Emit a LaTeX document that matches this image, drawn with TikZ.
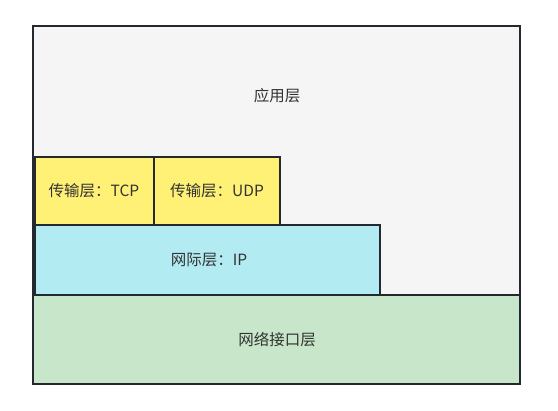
\documentclass[tikz,border=0pt]{standalone}
\usepackage{fontspec}
\newfontfamily\cjk{Noto Sans CJK SC}
\definecolor{edge}{HTML}{23292F}
\definecolor{appfill}{HTML}{F5F5F5}
\definecolor{netfill}{HTML}{C8E6C9}
\definecolor{ipfill}{HTML}{B2EBF2}
\definecolor{tfill}{HTML}{FFF176}
\definecolor{txt}{HTML}{333333}
\begin{document}
\begin{tikzpicture}[x=1pt,y=-1pt,
  layer/.style={draw=edge,line width=2pt},
  lbl/.style={font=\cjk\fontsize{15.5}{18}\selectfont,text=txt,inner sep=0pt}]
\useasboundingbox (0,0) rectangle (558,411);
\fill[white] (0,0) rectangle (558,411);
\draw[layer,fill=appfill] (33,26) rectangle (520,384);
\node[lbl] (app) at (277,96) {应用层};
\draw[layer,fill=netfill] (33,295) rectangle (520,384);
\node[lbl] (net) at (277,340) {网络接口层};
\draw[layer,fill=ipfill] (35,225) rectangle (380,295);
\node[lbl] (ip) at (209,260) {网际层：IP};
\draw[layer,fill=tfill] (35,157) rectangle (154,225);
\node[lbl] (tcp) at (94,191) {传输层：TCP};
\draw[layer,fill=tfill] (154,157) rectangle (280,225);
\node[lbl] (udp) at (217,191) {传输层：UDP};
\end{tikzpicture}
\end{document}
